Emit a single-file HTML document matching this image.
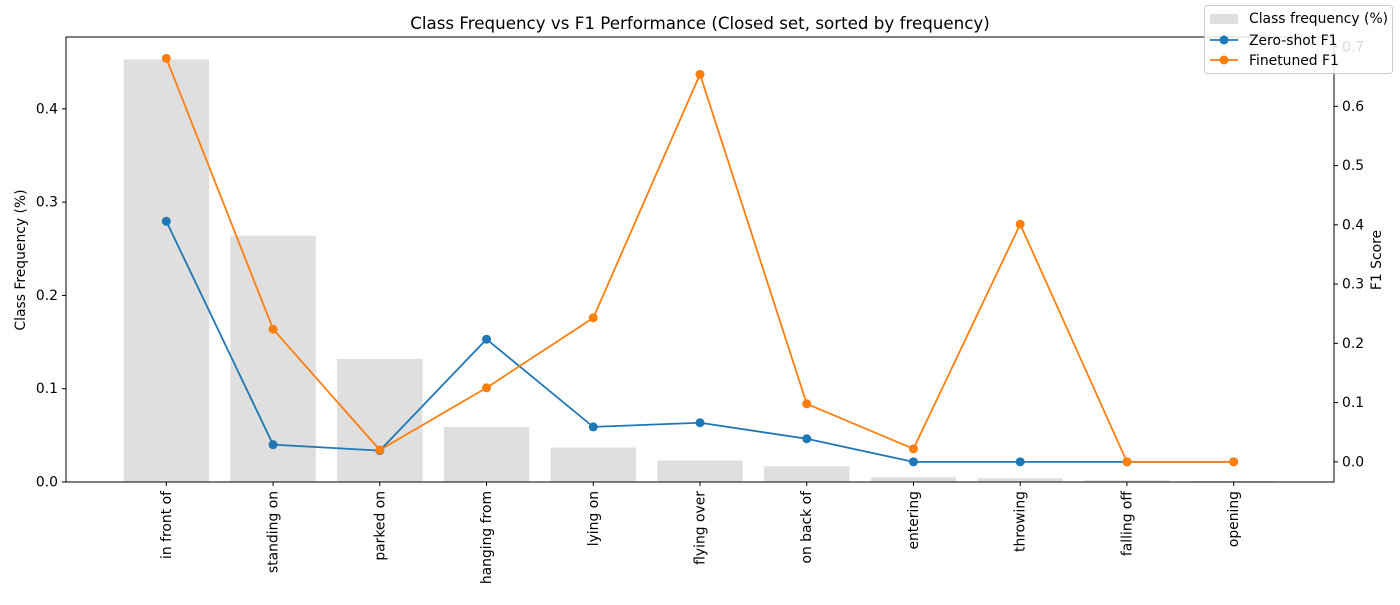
<!DOCTYPE html>
<html><head><meta charset="utf-8"><style>
body{margin:0;background:#fff;}
svg{font-family:"DejaVu Sans","Liberation Sans",sans-serif;}
</style></head><body>
<svg id="chart" width="1400" height="600" viewBox="0 0 1400 600" xmlns="http://www.w3.org/2000/svg">
<text x="700" y="29" text-anchor="middle" font-size="16.7">Class Frequency vs F1 Performance (Closed set, sorted by frequency)</text>
<g id="bars"></g><g id="lines"></g><g id="axes"></g>
<text transform="translate(25,260) rotate(-90)" text-anchor="middle" font-size="13.9">Class Frequency (%)</text>
<text transform="translate(1381,260) rotate(-90)" text-anchor="middle" font-size="13.9">F1 Score</text>
<g>
<rect x="1204.5" y="5.5" width="188" height="68" rx="3" fill="#fff" fill-opacity="0.85" stroke="#ccc"/>
<rect x="1210" y="14" width="28" height="10" fill="#dfdfdf"/>
<text x="1249" y="23" font-size="13.9">Class frequency (%)</text>
<line x1="1210" y1="40" x2="1238" y2="40" stroke="#1f77b4" stroke-width="1.8"/><circle cx="1224" cy="40" r="4.5" fill="#1f77b4"/>
<text x="1249" y="45" font-size="13.9">Zero-shot F1</text>
<line x1="1210" y1="60" x2="1238" y2="60" stroke="#ff7f0e" stroke-width="1.8"/><circle cx="1224" cy="60" r="4.5" fill="#ff7f0e"/>
<text x="1249" y="65" font-size="13.9">Finetuned F1</text>
</g>
</svg>
<script>
const categories=["in front of","standing on","parked on","hanging from","lying on","flying over","on back of","entering","throwing","falling off","opening"];
const frequency=[0.453,0.264,0.132,0.059,0.037,0.023,0.017,0.005,0.004,0.002,0.001];
const zeroShotF1=[0.406,0.029,0.019,0.207,0.059,0.066,0.039,0.0,0.0,0.0,0.0];
const finetunedF1=[0.681,0.224,0.020,0.125,0.243,0.654,0.098,0.022,0.401,0.0,0.0];
const leftTicks=[0.0,0.1,0.2,0.3,0.4];
const rightTicks=[0.0,0.1,0.2,0.3,0.4,0.5,0.6,0.7];

const L=66,R=1334,T=37,B=482;
const NS="http://www.w3.org/2000/svg";
const yl=v=>B-(v-0)/0.477*(B-T);
const yr=v=>B-(v+0.034)/(0.717+0.034)*(B-T);
const step=(R-L)/(categories.length+0.88);
const xc=i=>L+step*(0.94+i);
function mk(tag,attrs,parent){const e=document.createElementNS(NS,tag);for(const k in attrs)e.setAttribute(k,attrs[k]);parent.appendChild(e);return e;}
const gb=document.getElementById('bars'),gl=document.getElementById('lines'),ga=document.getElementById('axes');
const bw=step*0.8;
frequency.forEach((v,i)=>{
 const r=mk('rect',{x:xc(i)-bw/2,y:yl(v),width:bw,height:B-yl(v),fill:'#dfdfdf'},gb);
 
 
});
function series(vals,color,name){
 const p=mk('polyline',{points:vals.map((v,i)=>xc(i)+','+yr(v)).join(' '),fill:'none',stroke:color,'stroke-width':1.8},gl);
 
 
 vals.forEach((v,i)=>{const c=mk('circle',{cx:xc(i),cy:yr(v),r:4.5,fill:color},gl);
  
  });
}
series(zeroShotF1,'#1f77b4','zero-shot-f1');
series(finetunedF1,'#ff7f0e','finetuned-f1');
mk('rect',{x:L,y:T,width:R-L,height:B-T,fill:'none',stroke:'#000','stroke-width':1},ga);
leftTicks.forEach(v=>{const y=yl(v);mk('line',{x1:L-4,x2:L,y1:y,y2:y,stroke:'#000'},ga);
 const t=mk('text',{x:L-8,y:y+4.5,'text-anchor':'end','font-size':13.9},ga);t.textContent=v.toFixed(1);
 
 });
rightTicks.forEach(v=>{const y=yr(v);mk('line',{x1:R,x2:R+4,y1:y,y2:y,stroke:'#000'},ga);
 const t=mk('text',{x:R+8,y:y+4.5,'font-size':13.9},ga);t.textContent=v.toFixed(1);
 
 });
categories.forEach((c,i)=>{const x=xc(i);mk('line',{x1:x,x2:x,y1:B,y2:B+4,stroke:'#000'},ga);
 const t=mk('text',{transform:`translate(${x+4.5},${B+9}) rotate(-90)`,'text-anchor':'end','font-size':13.9},ga);t.textContent=c;
 
 });
</script>
</body></html>
